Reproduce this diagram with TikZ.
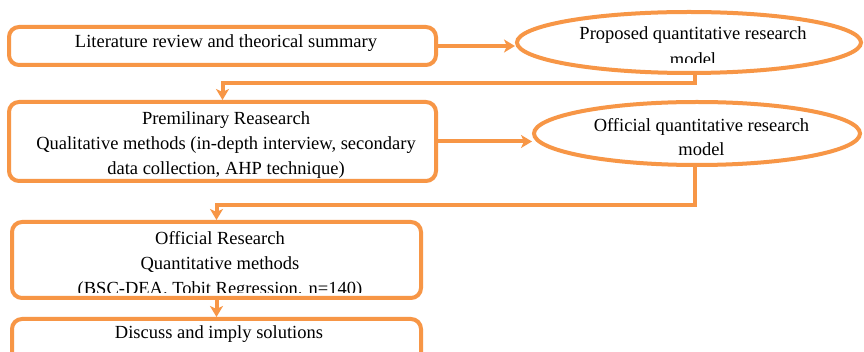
\documentclass[tikz,border=0pt]{standalone}
\usepackage{fontspec}
\setmainfont{Liberation Serif}
\usetikzlibrary{shapes.geometric,arrows.meta}
\definecolor{acc}{RGB}{247,150,70}
\tikzset{
  box/.style={draw=acc, line width=4pt, rounded corners=10pt, inner sep=0pt},
  ell/.style={draw=acc, line width=4pt, ellipse, inner sep=0pt},
  conn/.style={draw=acc, line width=4pt, -{Stealth[length=11pt,width=13pt,inset=3pt]}},
  txt/.style={anchor=base, inner sep=0pt, font=\fontsize{18.5}{25}\selectfont, text=black}
}
\begin{document}
\begin{tikzpicture}[x=1pt,y=-1pt]
\clip (0,0) rectangle (864,352);
\fill[white] (0,0) rectangle (864,352);
% shapes
\node[box, minimum width=427pt, minimum height=38pt] (b1) at (222.5,46) {};
\node[box, minimum width=427pt, minimum height=79pt] (b2) at (222.5,141.5) {};
\node[box, minimum width=409pt, minimum height=76pt] (b3) at (216.5,260) {};
\node[box, minimum width=409pt, minimum height=50pt] (b4) at (216.5,344) {};
\node[ell, minimum width=344pt, minimum height=61pt] (e1) at (689,42.5) {};
\node[ell, minimum width=326pt, minimum height=63pt] (e2) at (697,133.5) {};
% texts
\node[txt] (t1) at (226,48) {Literature review and theorical summary};
\begin{scope}
\clip (520,14) rectangle (860,62.5);
\node[txt] (t2a) at (693,40) {Proposed quantitative research};
\node[txt] (t2b) at (693,65.5) {model};
\end{scope}
\begin{scope}
\clip (12,104) rectangle (434,179);
\node[txt] (t3a) at (226,125) {Premilinary Reasearch};
\node[txt] (t3b) at (226,150) {Qualitative methods (in-depth interview, secondary};
\node[txt] (t3c) at (226,175) {data collection, AHP technique)};
\end{scope}
\node[txt] (t4a) at (701.5,132) {Official quantitative research};
\node[txt] (t4b) at (701.5,156) {model};
\begin{scope}
\clip (14,224) rectangle (419,293);
\node[txt] (t5a) at (220,245) {Official Research};
\node[txt] (t5b) at (220,270) {Quantitative methods};
\node[txt] (t5c) at (220,295) {(BSC-DEA. Tobit Regression. n=140)};
\end{scope}
\node[txt] (t6) at (219,338) {Discuss and imply solutions};
% connectors
\coordinate (k1) at (695,83);
\coordinate (k2) at (695,205);
\draw[conn] (b1.east) -- (b1.east -| e1.west);
\draw[conn] (e1.south -| k1) -- (k1) -| (b2.north);
\draw[conn] (b2.east) -- (b2.east -| e2.west);
\draw[conn] (e2.south -| k2) -- (k2) -| (b3.north);
\draw[conn] (b3.south) -- (b4.north);
\end{tikzpicture}
\end{document}
